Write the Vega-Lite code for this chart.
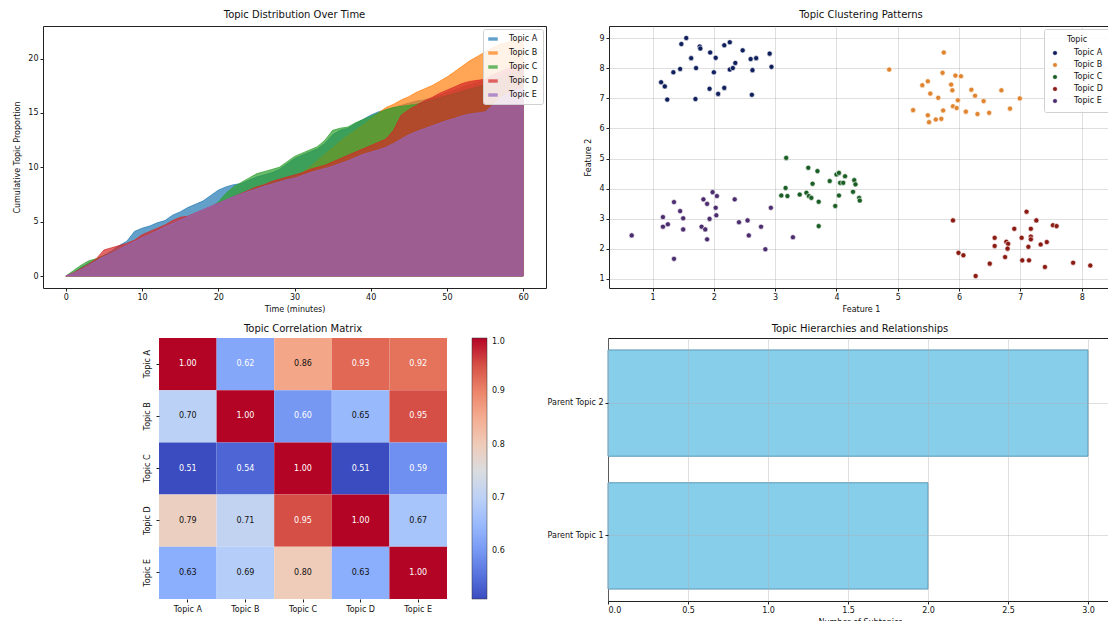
{
  "$schema": "https://vega.github.io/schema/vega-lite/v6.json",
  "background": "white",
  "padding": {"left": 0, "top": 9, "right": 0, "bottom": 0},
  "spacing": 312,
  "bounds": "flush",
  "resolve": {
    "scale": {"color": "independent", "stroke": "independent"},
    "legend": {"color": "independent", "stroke": "independent"}
  },
  "config": {
    "font": "DejaVu Sans",
    "view": {"stroke": null},
    "axis": {
      "domain": false,
      "grid": false,
      "labelFont": "DejaVu Sans",
      "titleFont": "DejaVu Sans",
      "labelFontSize": 8,
      "titleFontSize": 8,
      "titleFontWeight": "normal",
      "labelColor": "#111",
      "titleColor": "#111",
      "tickColor": "#222",
      "tickSize": 3,
      "labelPadding": 2,
      "titlePadding": 4,
      "gridColor": "#b0b0b0",
      "gridOpacity": 0.4
    },
    "title": {"font": "DejaVu Sans", "fontSize": 10, "fontWeight": "normal", "color": "#111", "offset": 6},
    "legend": {"labelFont": "DejaVu Sans", "titleFont": "DejaVu Sans", "labelColor": "#111", "titleColor": "#111"}
  },
  "vconcat": [
    {
      "spacing": 0,
      "bounds": "flush",
      "resolve": {
        "scale": {"color": "independent", "stroke": "independent"},
        "legend": {"color": "independent", "stroke": "independent"}
      },
      "hconcat": [
        {"width": 43, "height": 262, "data": {"values": []}, "mark": "point"},
        {
          "width": 503,
          "height": 262,
          "title": "Topic Distribution Over Time",
          "view": {"stroke": "#222", "strokeWidth": 1},
          "data": {
            "values": [
              {"t": 0, "A": 0, "B": 0, "C": 0, "D": 0, "E": 0},
              {"t": 1, "A": 0.3, "B": 0.2, "C": 0.5, "D": 0.3, "E": 0.25},
              {"t": 2, "A": 0.8, "B": 0.5, "C": 1.0, "D": 0.7, "E": 0.6},
              {"t": 3, "A": 1.2, "B": 0.9, "C": 1.4, "D": 1.1, "E": 1.0},
              {"t": 4, "A": 1.5, "B": 1.2, "C": 1.6, "D": 1.6, "E": 1.4},
              {"t": 5, "A": 1.9, "B": 1.5, "C": 1.9, "D": 2.4, "E": 1.8},
              {"t": 6, "A": 2.3, "B": 1.9, "C": 2.1, "D": 2.6, "E": 2.1},
              {"t": 7, "A": 2.8, "B": 2.2, "C": 2.4, "D": 2.8, "E": 2.45},
              {"t": 8, "A": 3.2, "B": 2.6, "C": 2.7, "D": 3.0, "E": 2.8},
              {"t": 9, "A": 4.1, "B": 2.9, "C": 3.0, "D": 3.3, "E": 3.15},
              {"t": 10, "A": 4.4, "B": 3.3, "C": 3.4, "D": 3.8, "E": 3.5},
              {"t": 11, "A": 4.6, "B": 3.6, "C": 3.7, "D": 4.1, "E": 3.8},
              {"t": 12, "A": 4.9, "B": 4.0, "C": 4.0, "D": 4.4, "E": 4.15},
              {"t": 13, "A": 5.1, "B": 4.3, "C": 4.4, "D": 4.7, "E": 4.5},
              {"t": 14, "A": 5.6, "B": 4.6, "C": 4.7, "D": 5.1, "E": 4.8},
              {"t": 15, "A": 5.9, "B": 4.9, "C": 5.0, "D": 5.4, "E": 5.1},
              {"t": 16, "A": 6.3, "B": 5.3, "C": 5.3, "D": 5.5, "E": 5.45},
              {"t": 17, "A": 6.6, "B": 5.6, "C": 5.6, "D": 5.8, "E": 5.75},
              {"t": 18, "A": 6.9, "B": 5.9, "C": 6.0, "D": 6.1, "E": 6.1},
              {"t": 19, "A": 7.4, "B": 6.2, "C": 6.3, "D": 6.4, "E": 6.4},
              {"t": 20, "A": 7.9, "B": 6.5, "C": 6.8, "D": 6.7, "E": 6.7},
              {"t": 21, "A": 8.2, "B": 6.8, "C": 7.6, "D": 7.0, "E": 7.0},
              {"t": 22, "A": 8.4, "B": 7.1, "C": 8.2, "D": 7.3, "E": 7.3},
              {"t": 23, "A": 8.5, "B": 7.4, "C": 8.6, "D": 7.6, "E": 7.55},
              {"t": 24, "A": 8.8, "B": 7.7, "C": 9.0, "D": 7.9, "E": 7.8},
              {"t": 25, "A": 9.1, "B": 7.9, "C": 9.4, "D": 8.2, "E": 8.0},
              {"t": 26, "A": 9.3, "B": 8.1, "C": 9.6, "D": 8.4, "E": 8.25},
              {"t": 27, "A": 9.5, "B": 8.3, "C": 9.8, "D": 8.7, "E": 8.45},
              {"t": 28, "A": 9.8, "B": 8.5, "C": 10.0, "D": 8.9, "E": 8.65},
              {"t": 29, "A": 10.3, "B": 8.7, "C": 10.5, "D": 9.1, "E": 8.85},
              {"t": 30, "A": 10.8, "B": 9.0, "C": 11.0, "D": 9.3, "E": 9.0},
              {"t": 31, "A": 11.1, "B": 9.5, "C": 11.3, "D": 9.5, "E": 9.25},
              {"t": 32, "A": 11.4, "B": 10.0, "C": 11.6, "D": 9.8, "E": 9.5},
              {"t": 33, "A": 11.7, "B": 10.6, "C": 11.9, "D": 10.0, "E": 9.7},
              {"t": 34, "A": 12.2, "B": 11.2, "C": 12.5, "D": 10.2, "E": 9.9},
              {"t": 35, "A": 13.0, "B": 11.8, "C": 13.4, "D": 10.5, "E": 10.1},
              {"t": 36, "A": 13.4, "B": 12.4, "C": 13.6, "D": 10.8, "E": 10.35},
              {"t": 37, "A": 13.6, "B": 12.9, "C": 13.7, "D": 11.1, "E": 10.6},
              {"t": 38, "A": 14.0, "B": 13.4, "C": 14.1, "D": 11.4, "E": 10.9},
              {"t": 39, "A": 14.4, "B": 13.9, "C": 14.4, "D": 11.7, "E": 11.2},
              {"t": 40, "A": 14.8, "B": 14.4, "C": 14.7, "D": 12.0, "E": 11.4},
              {"t": 41, "A": 15.1, "B": 15.0, "C": 15.0, "D": 12.3, "E": 11.6},
              {"t": 42, "A": 15.3, "B": 15.5, "C": 15.3, "D": 12.6, "E": 11.85},
              {"t": 43, "A": 15.5, "B": 15.8, "C": 15.5, "D": 13.4, "E": 12.2},
              {"t": 44, "A": 15.7, "B": 16.2, "C": 15.6, "D": 14.8, "E": 12.6},
              {"t": 45, "A": 15.9, "B": 16.5, "C": 15.7, "D": 15.3, "E": 13.0},
              {"t": 46, "A": 16.1, "B": 16.9, "C": 15.8, "D": 15.7, "E": 13.3},
              {"t": 47, "A": 16.2, "B": 17.2, "C": 16.0, "D": 16.1, "E": 13.55},
              {"t": 48, "A": 16.4, "B": 17.5, "C": 16.2, "D": 16.4, "E": 13.8},
              {"t": 49, "A": 16.6, "B": 17.9, "C": 16.4, "D": 16.8, "E": 14.05},
              {"t": 50, "A": 16.9, "B": 18.3, "C": 16.6, "D": 17.1, "E": 14.3},
              {"t": 51, "A": 17.1, "B": 18.8, "C": 16.8, "D": 17.4, "E": 14.5},
              {"t": 52, "A": 17.4, "B": 19.3, "C": 17.0, "D": 17.7, "E": 14.75},
              {"t": 53, "A": 17.6, "B": 19.8, "C": 17.2, "D": 17.9, "E": 14.9},
              {"t": 54, "A": 17.8, "B": 20.2, "C": 17.4, "D": 18.0, "E": 15.0},
              {"t": 55, "A": 18.0, "B": 20.6, "C": 17.6, "D": 18.1, "E": 15.1},
              {"t": 56, "A": 18.3, "B": 21.0, "C": 17.9, "D": 18.5, "E": 15.7},
              {"t": 57, "A": 18.5, "B": 21.3, "C": 18.2, "D": 18.8, "E": 16.4},
              {"t": 58, "A": 18.8, "B": 21.5, "C": 18.5, "D": 19.1, "E": 16.8},
              {"t": 59, "A": 19.0, "B": 21.7, "C": 18.8, "D": 19.3, "E": 17.1},
              {"t": 60, "A": 19.3, "B": 21.9, "C": 19.0, "D": 19.5, "E": 17.3}
            ]
          },
          "transform": [{"fold": ["A", "B", "C", "D", "E"], "as": ["topic", "value"]}],
          "mark": {"type": "area", "fillOpacity": 0.7, "strokeOpacity": 0.7, "strokeWidth": 1},
          "encoding": {
            "x": {
              "field": "t", "type": "quantitative",
              "scale": {"domain": [-3, 63], "nice": false, "zero": false},
              "axis": {"values": [0, 10, 20, 30, 40, 50, 60], "title": "Time (minutes)"}
            },
            "y": {
              "field": "value", "type": "quantitative", "stack": null,
              "scale": {"domain": [-1.1, 23.0], "nice": false, "zero": false},
              "axis": {"values": [0, 5, 10, 15, 20], "title": "Cumulative Topic Proportion", "titlePadding": 6}
            },
            "y2": {"datum": 0},
            "color": {
              "field": "topic", "type": "nominal",
              "scale": {"domain": ["A", "B", "C", "D", "E"], "range": ["#1f77b4", "#ff7f0e", "#2ca02c", "#d62728", "#9467bd"]},
              "legend": {
                "orient": "top-right", "offset": 3, "title": null,
                "fillColor": "rgba(255,255,255,0.85)", "strokeColor": "#d0d0d0", "cornerRadius": 2, "padding": 5,
                "symbolType": "M-1,-0.36H1V0.36H-1Z", "symbolSize": 90, "symbolOpacity": 0.7, "symbolStrokeWidth": 0,
                "labelFontSize": 8, "rowPadding": 5, "labelOffset": 11,
                "labelExpr": "'Topic ' + datum.label"
              }
            },
            "stroke": {
              "field": "topic", "type": "nominal",
              "scale": {"domain": ["A", "B", "C", "D", "E"], "range": ["#1f77b4", "#ff7f0e", "#2ca02c", "#d62728", "#9467bd"]},
              "legend": null
            }
          }
        },
        {"width": 63, "height": 262, "data": {"values": []}, "mark": "point"},
        {
          "width": 504,
          "height": 262,
          "title": "Topic Clustering Patterns",
          "view": {"stroke": "#222", "strokeWidth": 1},
          "data": {
            "values": [
              {"topic": "Topic A", "f1": 1.14, "f2": 7.54}, {"topic": "Topic A", "f1": 1.2, "f2": 7.4},
              {"topic": "Topic A", "f1": 1.24, "f2": 6.96}, {"topic": "Topic A", "f1": 1.34, "f2": 7.87},
              {"topic": "Topic A", "f1": 1.45, "f2": 7.98}, {"topic": "Topic A", "f1": 1.47, "f2": 8.81},
              {"topic": "Topic A", "f1": 1.55, "f2": 9.01}, {"topic": "Topic A", "f1": 1.63, "f2": 8.34},
              {"topic": "Topic A", "f1": 1.71, "f2": 8.01}, {"topic": "Topic A", "f1": 1.7, "f2": 6.98},
              {"topic": "Topic A", "f1": 1.77, "f2": 8.73}, {"topic": "Topic A", "f1": 1.78, "f2": 8.66},
              {"topic": "Topic A", "f1": 1.94, "f2": 8.53}, {"topic": "Topic A", "f1": 1.93, "f2": 7.32},
              {"topic": "Topic A", "f1": 2.0, "f2": 7.87}, {"topic": "Topic A", "f1": 2.03, "f2": 8.35},
              {"topic": "Topic A", "f1": 2.07, "f2": 7.15}, {"topic": "Topic A", "f1": 2.17, "f2": 7.35},
              {"topic": "Topic A", "f1": 2.17, "f2": 8.77}, {"topic": "Topic A", "f1": 2.26, "f2": 8.87},
              {"topic": "Topic A", "f1": 2.26, "f2": 7.96}, {"topic": "Topic A", "f1": 2.31, "f2": 8.01},
              {"topic": "Topic A", "f1": 2.35, "f2": 8.18}, {"topic": "Topic A", "f1": 2.47, "f2": 8.6},
              {"topic": "Topic A", "f1": 2.6, "f2": 8.31}, {"topic": "Topic A", "f1": 2.63, "f2": 7.94},
              {"topic": "Topic A", "f1": 2.69, "f2": 8.34}, {"topic": "Topic A", "f1": 2.62, "f2": 7.12},
              {"topic": "Topic A", "f1": 2.91, "f2": 8.49}, {"topic": "Topic A", "f1": 2.94, "f2": 8.05},
              {"topic": "Topic B", "f1": 4.86, "f2": 7.96}, {"topic": "Topic B", "f1": 5.75, "f2": 8.53},
              {"topic": "Topic B", "f1": 5.73, "f2": 7.85}, {"topic": "Topic B", "f1": 5.94, "f2": 7.76},
              {"topic": "Topic B", "f1": 6.03, "f2": 7.74}, {"topic": "Topic B", "f1": 5.4, "f2": 7.44},
              {"topic": "Topic B", "f1": 5.49, "f2": 7.57}, {"topic": "Topic B", "f1": 5.53, "f2": 7.16},
              {"topic": "Topic B", "f1": 5.66, "f2": 7.02}, {"topic": "Topic B", "f1": 5.87, "f2": 7.46},
              {"topic": "Topic B", "f1": 5.89, "f2": 7.27}, {"topic": "Topic B", "f1": 5.98, "f2": 6.94},
              {"topic": "Topic B", "f1": 6.2, "f2": 7.29}, {"topic": "Topic B", "f1": 6.26, "f2": 7.09},
              {"topic": "Topic B", "f1": 6.4, "f2": 6.91}, {"topic": "Topic B", "f1": 6.69, "f2": 7.27},
              {"topic": "Topic B", "f1": 6.99, "f2": 7.0}, {"topic": "Topic B", "f1": 6.83, "f2": 6.66},
              {"topic": "Topic B", "f1": 5.74, "f2": 6.6}, {"topic": "Topic B", "f1": 5.9, "f2": 6.74},
              {"topic": "Topic B", "f1": 5.96, "f2": 6.68}, {"topic": "Topic B", "f1": 6.11, "f2": 6.56},
              {"topic": "Topic B", "f1": 6.3, "f2": 6.48}, {"topic": "Topic B", "f1": 6.49, "f2": 6.52},
              {"topic": "Topic B", "f1": 5.25, "f2": 6.61}, {"topic": "Topic B", "f1": 5.49, "f2": 6.44},
              {"topic": "Topic B", "f1": 5.51, "f2": 6.21}, {"topic": "Topic B", "f1": 5.62, "f2": 6.3},
              {"topic": "Topic B", "f1": 5.71, "f2": 6.32},
              {"topic": "Topic C", "f1": 3.18, "f2": 5.02}, {"topic": "Topic C", "f1": 3.17, "f2": 4.02},
              {"topic": "Topic C", "f1": 3.1, "f2": 3.77}, {"topic": "Topic C", "f1": 3.2, "f2": 3.75},
              {"topic": "Topic C", "f1": 3.4, "f2": 3.8}, {"topic": "Topic C", "f1": 3.54, "f2": 4.69},
              {"topic": "Topic C", "f1": 3.69, "f2": 4.58}, {"topic": "Topic C", "f1": 3.61, "f2": 4.16},
              {"topic": "Topic C", "f1": 3.51, "f2": 3.86}, {"topic": "Topic C", "f1": 3.55, "f2": 3.75},
              {"topic": "Topic C", "f1": 3.59, "f2": 3.69}, {"topic": "Topic C", "f1": 3.71, "f2": 3.56},
              {"topic": "Topic C", "f1": 3.71, "f2": 2.75}, {"topic": "Topic C", "f1": 3.89, "f2": 4.25},
              {"topic": "Topic C", "f1": 4.0, "f2": 4.47}, {"topic": "Topic C", "f1": 4.04, "f2": 4.52},
              {"topic": "Topic C", "f1": 4.14, "f2": 4.41}, {"topic": "Topic C", "f1": 4.06, "f2": 4.19},
              {"topic": "Topic C", "f1": 4.11, "f2": 4.19}, {"topic": "Topic C", "f1": 4.04, "f2": 3.77},
              {"topic": "Topic C", "f1": 3.98, "f2": 3.42}, {"topic": "Topic C", "f1": 4.29, "f2": 4.28},
              {"topic": "Topic C", "f1": 4.31, "f2": 4.14}, {"topic": "Topic C", "f1": 4.27, "f2": 3.89},
              {"topic": "Topic C", "f1": 4.37, "f2": 3.69}, {"topic": "Topic C", "f1": 4.38, "f2": 3.6},
              {"topic": "Topic D", "f1": 5.9, "f2": 2.94}, {"topic": "Topic D", "f1": 5.99, "f2": 1.86},
              {"topic": "Topic D", "f1": 6.07, "f2": 1.78}, {"topic": "Topic D", "f1": 6.27, "f2": 1.09},
              {"topic": "Topic D", "f1": 6.5, "f2": 1.5}, {"topic": "Topic D", "f1": 6.58, "f2": 2.36},
              {"topic": "Topic D", "f1": 6.58, "f2": 2.09}, {"topic": "Topic D", "f1": 6.75, "f2": 1.72},
              {"topic": "Topic D", "f1": 6.77, "f2": 2.23}, {"topic": "Topic D", "f1": 6.8, "f2": 2.16},
              {"topic": "Topic D", "f1": 6.79, "f2": 2.0}, {"topic": "Topic D", "f1": 6.9, "f2": 2.66},
              {"topic": "Topic D", "f1": 7.02, "f2": 2.36}, {"topic": "Topic D", "f1": 7.1, "f2": 3.23},
              {"topic": "Topic D", "f1": 7.17, "f2": 2.66}, {"topic": "Topic D", "f1": 7.17, "f2": 2.4},
              {"topic": "Topic D", "f1": 7.17, "f2": 2.31}, {"topic": "Topic D", "f1": 7.13, "f2": 2.06},
              {"topic": "Topic D", "f1": 7.03, "f2": 1.61}, {"topic": "Topic D", "f1": 7.14, "f2": 1.61},
              {"topic": "Topic D", "f1": 7.26, "f2": 2.94}, {"topic": "Topic D", "f1": 7.33, "f2": 2.14},
              {"topic": "Topic D", "f1": 7.4, "f2": 1.39}, {"topic": "Topic D", "f1": 7.43, "f2": 2.22},
              {"topic": "Topic D", "f1": 7.53, "f2": 2.78}, {"topic": "Topic D", "f1": 7.59, "f2": 2.75},
              {"topic": "Topic D", "f1": 7.86, "f2": 1.53}, {"topic": "Topic D", "f1": 8.14, "f2": 1.44},
              {"topic": "Topic E", "f1": 0.66, "f2": 2.44}, {"topic": "Topic E", "f1": 1.17, "f2": 2.73},
              {"topic": "Topic E", "f1": 1.17, "f2": 3.05}, {"topic": "Topic E", "f1": 1.25, "f2": 2.81},
              {"topic": "Topic E", "f1": 1.35, "f2": 3.55}, {"topic": "Topic E", "f1": 1.45, "f2": 3.25},
              {"topic": "Topic E", "f1": 1.5, "f2": 3.01}, {"topic": "Topic E", "f1": 1.5, "f2": 2.64},
              {"topic": "Topic E", "f1": 1.35, "f2": 1.66}, {"topic": "Topic E", "f1": 1.83, "f2": 3.64},
              {"topic": "Topic E", "f1": 1.89, "f2": 3.49}, {"topic": "Topic E", "f1": 1.8, "f2": 2.73},
              {"topic": "Topic E", "f1": 1.86, "f2": 2.64}, {"topic": "Topic E", "f1": 1.89, "f2": 2.31},
              {"topic": "Topic E", "f1": 1.93, "f2": 2.99}, {"topic": "Topic E", "f1": 1.98, "f2": 3.88},
              {"topic": "Topic E", "f1": 2.05, "f2": 3.75}, {"topic": "Topic E", "f1": 2.03, "f2": 3.36},
              {"topic": "Topic E", "f1": 2.04, "f2": 3.11}, {"topic": "Topic E", "f1": 2.34, "f2": 3.64},
              {"topic": "Topic E", "f1": 2.41, "f2": 2.88}, {"topic": "Topic E", "f1": 2.55, "f2": 2.94},
              {"topic": "Topic E", "f1": 2.57, "f2": 2.44}, {"topic": "Topic E", "f1": 2.77, "f2": 2.73},
              {"topic": "Topic E", "f1": 2.84, "f2": 1.98}, {"topic": "Topic E", "f1": 2.93, "f2": 3.36},
              {"topic": "Topic E", "f1": 3.29, "f2": 2.38}
            ]
          },
          "mark": {"type": "point", "filled": true, "size": 26, "opacity": 1, "stroke": "white", "strokeWidth": 0.6},
          "encoding": {
            "x": {
              "field": "f1", "type": "quantitative",
              "scale": {"domain": [0.29, 8.51], "nice": false, "zero": false},
              "axis": {"values": [1, 2, 3, 4, 5, 6, 7, 8], "title": "Feature 1", "grid": true}
            },
            "y": {
              "field": "f2", "type": "quantitative",
              "scale": {"domain": [0.69, 9.41], "nice": false, "zero": false},
              "axis": {"values": [1, 2, 3, 4, 5, 6, 7, 8, 9], "title": "Feature 2", "grid": true, "titlePadding": 6}
            },
            "color": {
              "field": "topic", "type": "nominal",
              "scale": {"domain": ["Topic A", "Topic B", "Topic C", "Topic D", "Topic E"], "range": ["#0f1f5c", "#e0842f", "#1b5e25", "#8a1a12", "#4b2d6e"]},
              "legend": {
                "orient": "top-right", "offset": 3, "title": "Topic", "titleFontSize": 8, "titleFontWeight": "normal",
                "titleAnchor": "middle",
                "fillColor": "rgba(255,255,255,0.85)", "strokeColor": "#d0d0d0", "cornerRadius": 2, "padding": 7,
                "symbolSize": 22, "symbolStrokeWidth": 0.5, "labelFontSize": 8, "rowPadding": 4, "labelOffset": 15
              }
            }
          }
        }
      ]
    },
    {
      "spacing": 0,
      "bounds": "flush",
      "resolve": {
        "scale": {"color": "independent"},
        "legend": {"color": "independent"}
      },
      "hconcat": [
        {"width": 159, "height": 261, "data": {"values": []}, "mark": "point"},
        {
          "width": 288,
          "height": 261,
          "title": {"text": "Topic Correlation Matrix", "offset": 4},
          "data": {
            "values": [
              {"row": "Topic A", "col": "Topic A", "r": 1.0}, {"row": "Topic A", "col": "Topic B", "r": 0.62},
              {"row": "Topic A", "col": "Topic C", "r": 0.86}, {"row": "Topic A", "col": "Topic D", "r": 0.93},
              {"row": "Topic A", "col": "Topic E", "r": 0.92},
              {"row": "Topic B", "col": "Topic A", "r": 0.7}, {"row": "Topic B", "col": "Topic B", "r": 1.0},
              {"row": "Topic B", "col": "Topic C", "r": 0.6}, {"row": "Topic B", "col": "Topic D", "r": 0.65},
              {"row": "Topic B", "col": "Topic E", "r": 0.95},
              {"row": "Topic C", "col": "Topic A", "r": 0.51}, {"row": "Topic C", "col": "Topic B", "r": 0.54},
              {"row": "Topic C", "col": "Topic C", "r": 1.0}, {"row": "Topic C", "col": "Topic D", "r": 0.51},
              {"row": "Topic C", "col": "Topic E", "r": 0.59},
              {"row": "Topic D", "col": "Topic A", "r": 0.79}, {"row": "Topic D", "col": "Topic B", "r": 0.71},
              {"row": "Topic D", "col": "Topic C", "r": 0.95}, {"row": "Topic D", "col": "Topic D", "r": 1.0},
              {"row": "Topic D", "col": "Topic E", "r": 0.67},
              {"row": "Topic E", "col": "Topic A", "r": 0.63}, {"row": "Topic E", "col": "Topic B", "r": 0.69},
              {"row": "Topic E", "col": "Topic C", "r": 0.8}, {"row": "Topic E", "col": "Topic D", "r": 0.63},
              {"row": "Topic E", "col": "Topic E", "r": 1.0}
            ]
          },
          "encoding": {
            "x": {
              "field": "col", "type": "nominal",
              "sort": ["Topic A", "Topic B", "Topic C", "Topic D", "Topic E"],
              "scale": {"paddingInner": 0, "paddingOuter": 0},
              "axis": {"title": null, "labelAngle": 0, "labelPadding": 3}
            },
            "y": {
              "field": "row", "type": "nominal",
              "sort": ["Topic A", "Topic B", "Topic C", "Topic D", "Topic E"],
              "scale": {"paddingInner": 0, "paddingOuter": 0},
              "axis": {"title": null, "labelAngle": 270, "labelAlign": "center", "labelBaseline": "bottom", "labelPadding": 5}
            }
          },
          "layer": [
            {
              "mark": {"type": "rect"},
              "encoding": {
                "color": {
                  "field": "r", "type": "quantitative",
                  "scale": {
                    "domain": [0.51, 0.57125, 0.6325, 0.69375, 0.755, 0.81625, 0.8775, 0.93875, 1.0],
                    "range": ["#3b4cc0", "#6282ea", "#8db0fe", "#b8d0f9", "#dddddd", "#f5c4ac", "#f49a7b", "#de604d", "#b40426"],
                    "interpolate": "rgb"
                  },
                  "legend": {
                    "orient": "right", "offset": 25, "title": null, "direction": "vertical",
                    "gradientLength": 261, "gradientThickness": 15,
                    "gradientStrokeColor": "#333", "gradientStrokeWidth": 0.5,
                    "values": [0.6, 0.7, 0.8, 0.9, 1.0], "format": ".1f",
                    "labelFontSize": 8, "labelOffset": 5, "labelOverlap": false
                  }
                }
              }
            },
            {
              "mark": {"type": "text", "fontSize": 8},
              "encoding": {
                "text": {"field": "r", "type": "quantitative", "format": ".2f"},
                "color": {"condition": {"test": "datum.r < 0.625 || datum.r > 0.88", "value": "white"}, "value": "#111"}
              }
            }
          ]
        },
        {"width": 161, "height": 261, "data": {"values": []}, "mark": "point"},
        {
          "width": 504,
          "height": 263,
          "title": {"text": "Topic Hierarchies and Relationships", "offset": 4},
          "view": {"stroke": "#222", "strokeWidth": 1},
          "data": {
            "values": [
              {"parent": "Parent Topic 1", "subtopics": 2},
              {"parent": "Parent Topic 2", "subtopics": 3}
            ]
          },
          "mark": {"type": "bar", "color": "#87ceeb", "stroke": "#5b97b5", "strokeWidth": 1},
          "encoding": {
            "y": {
              "field": "parent", "type": "nominal",
              "sort": ["Parent Topic 2", "Parent Topic 1"],
              "scale": {"paddingInner": 0.2, "paddingOuter": 0.09},
              "axis": {"title": null, "grid": true, "zindex": 1}
            },
            "x": {
              "field": "subtopics", "type": "quantitative",
              "scale": {"domain": [0, 3.15], "nice": false},
              "axis": {"values": [0, 0.5, 1, 1.5, 2, 2.5, 3], "format": ".1f", "title": "Number of Subtopics", "grid": true, "zindex": 1}
            }
          }
        }
      ]
    }
  ]
}
